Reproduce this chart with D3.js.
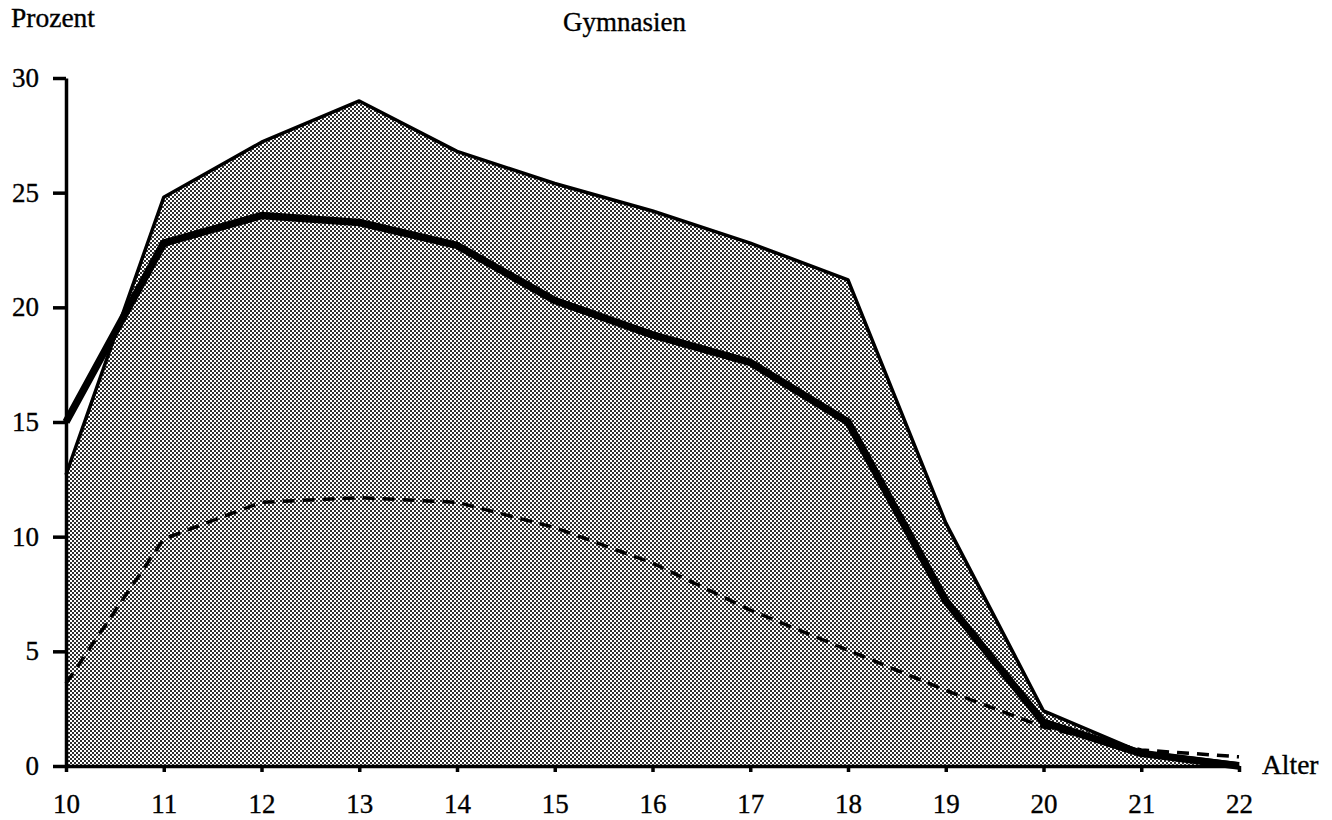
<!DOCTYPE html>
<html>
<head>
<meta charset="utf-8">
<script src="https://cdn.jsdelivr.net/npm/d3@7"></script>
<style>
  body { margin: 0; background: #fff; }
  text { font-family: "Liberation Serif", "DejaVu Serif", serif; fill: #000; stroke: #000; stroke-width: 0.35px; }
</style>
</head>
<body>
<div id="chart"></div>
<script>
const width = 1332, height = 820;

// data
const ages = [10, 11, 12, 13, 14, 15, 16, 17, 18, 19, 20, 21, 22];
const upperArea = [12.7, 24.8, 27.2, 29.0, 26.8, 25.4, 24.2, 22.8, 21.2, 10.6, 2.4, 0.6, 0.1];
const thickLine = [15.0, 22.8, 24.0, 23.7, 22.7, 20.3, 18.8, 17.6, 15.0, 7.2, 1.9, 0.55, 0];
const dashedLine = [3.6, 9.9, 11.5, 11.7, 11.5, 10.4, 8.85, 6.8, 5.05, 3.3, 1.7, 0.7, 0.4];
const yTicks = [0, 5, 10, 15, 20, 25, 30];

const svg = d3.select("#chart")
  .append("svg")
  .attr("width", width)
  .attr("height", height);

// halftone screen for the shaded area
const pat = svg.append("defs").append("pattern")
  .attr("id", "screen")
  .attr("patternUnits", "userSpaceOnUse")
  .attr("width", 4)
  .attr("height", 4);
pat.append("rect").attr("width", 4).attr("height", 4).attr("fill", "#fff");
pat.append("rect").attr("x", 0).attr("y", 0).attr("width", 2).attr("height", 2).attr("fill", "#2e2e2e");
pat.append("rect").attr("x", 2).attr("y", 2).attr("width", 2).attr("height", 2).attr("fill", "#2e2e2e");

const x = d3.scaleLinear().domain([10, 22]).range([66, 1239]);
const y = d3.scaleLinear().domain([0, 30]).range([766, 78]);

const rows = ages.map((a, i) => ({ age: a, up: upperArea[i], thick: thickLine[i], dash: dashedLine[i] }));

// shaded area
svg.append("path")
  .datum(rows)
  .attr("fill", "url(#screen)")
  .attr("d", d3.area()
    .x(d => x(d.age))
    .y0(y(0))
    .y1(d => y(d.up)));

svg.append("path")
  .datum(rows)
  .attr("fill", "none")
  .attr("stroke", "#000")
  .attr("stroke-width", 3.5)
  .attr("stroke-linejoin", "round")
  .attr("d", d3.line().x(d => x(d.age)).y(d => y(d.up)));

// dashed line
svg.append("path")
  .datum(rows)
  .attr("fill", "none")
  .attr("stroke", "#000")
  .attr("stroke-width", 3.5)
  .attr("stroke-dasharray", "12,8")
  .attr("d", d3.line().x(d => x(d.age)).y(d => y(d.dash)));

// thick line
svg.append("path")
  .datum(rows)
  .attr("fill", "none")
  .attr("stroke", "#000")
  .attr("stroke-width", 7.5)
  .attr("stroke-linejoin", "round")
  .attr("d", d3.line().x(d => x(d.age)).y(d => y(d.thick)));

// axes
const yAxis = svg.append("g")
  .attr("transform", `translate(${x(10)},0)`)
  .call(d3.axisLeft(y).tickValues(yTicks).tickSize(13).tickPadding(14).tickSizeOuter(0));

const xAxis = svg.append("g")
  .attr("transform", `translate(0,${y(0)})`)
  .call(d3.axisBottom(x).tickValues(ages).tickSize(6).tickPadding(22).tickSizeOuter(0).tickFormat(d3.format("d")));

[yAxis, xAxis].forEach(g => {
  g.select(".domain").attr("stroke", "#000").attr("stroke-width", 3.5);
  g.selectAll(".tick line").attr("stroke", "#000").attr("stroke-width", 3.5);
  g.selectAll(".tick text")
    .style("font-family", "'Liberation Serif', serif")
    .style("font-size", "27px")
    .attr("fill", "#000");
});

// labels
svg.append("text").attr("x", 11).attr("y", 27).style("font-size", "27.5px").text("Prozent");
svg.append("text").attr("x", 563).attr("y", 31).style("font-size", "27px").text("Gymnasien");
svg.append("text").attr("x", 1262).attr("y", 774).style("font-size", "27.5px").text("Alter");
</script>
</body>
</html>
